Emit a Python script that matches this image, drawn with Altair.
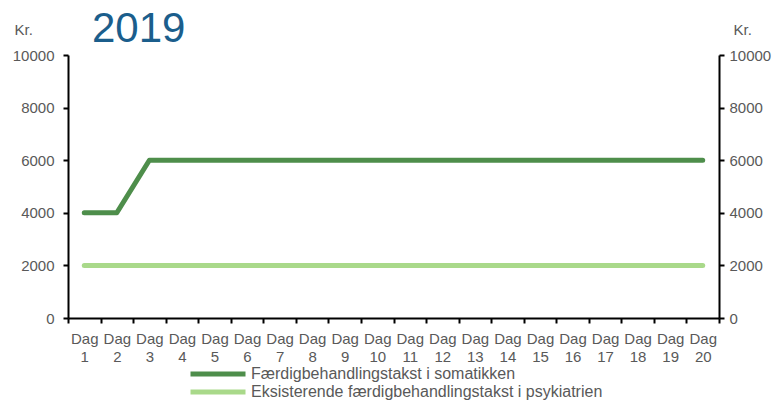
import altair as alt
import pandas as pd

days = list(range(1, 21))
somatik = [4000, 4000] + [6000] * 18
psyk = [2000] * 20
series_names = ["Færdigbehandlingstakst i somatikken",
                "Eksisterende færdigbehandlingstakst i psykiatrien"]
colors = ["#4E8E4B", "#A9D98A"]
y_ticks = [0, 2000, 4000, 6000, 8000, 10000]

rows = []
for d, a, b in zip(days, somatik, psyk):
    rows.append({"dag": d, "kr": a, "serie": series_names[0]})
    rows.append({"dag": d, "kr": b, "serie": series_names[1]})
df = pd.DataFrame(rows)

FONT = "Liberation Sans"
GRAY = "#595959"

x = alt.X("dag:O", scale=alt.Scale(type="band", paddingInner=0, paddingOuter=0),
          axis=alt.Axis(title=None, labelAngle=0, tickBand="extent",
                        labelExpr="datum.label ? ['Dag', datum.label] : ''",
                        labelLineHeight=18, labelPadding=8, tickSize=5,
                        labelFlush=False, labelOverlap=False, labelBound=False))

lines = alt.Chart(df).mark_line(strokeWidth=5, strokeCap="round", strokeJoin="round").encode(
    x=x,
    y=alt.Y("kr:Q", scale=alt.Scale(domain=[0, 10000]),
            axis=alt.Axis(values=y_ticks, format="d", title="Kr.", orient="left", titleAngle=0,
                          titleX=-54, titleY=-26, titleAlign="left", titleBaseline="middle",
                          tickSize=5, labelPadding=9)),
    color=alt.Color("serie:N", scale=alt.Scale(domain=series_names, range=colors),
                    legend=alt.Legend(title=None, orient="none", legendX=142, legendY=311,
                                      symbolType="M-5,0H5", symbolSize=121,
                                      symbolStrokeWidth=5, labelOffset=25, rowPadding=-3,
                                      labelFontSize=16, labelColor=GRAY, labelFont=FONT,
                                      labelLimit=0)),
    order=alt.Order("dag:O"),
)

right = alt.Chart(df).mark_line(opacity=0).encode(
    x=x,
    y=alt.Y("kr:Q", scale=alt.Scale(domain=[0, 10000]),
            axis=alt.Axis(values=y_ticks, format="d", title="Kr.", orient="right", titleAngle=0,
                          titleX=14, titleY=-26, titleAlign="left", titleBaseline="middle",
                          tickSize=5, labelPadding=5)),
    detail="serie:N",
)

chart = alt.layer(lines, right).resolve_scale(y="independent").properties(
    width=651, height=263,
    autosize=alt.AutoSizeParams(type="none"),
    padding={"left": 68, "top": 55, "right": 61, "bottom": 84},
    title=alt.TitleParams("2019", fontSize=42, color="#1B5E8C", anchor="start",
                          frame="group", dx=24, font=FONT, fontWeight="normal",
                          baseline="alphabetic", offset=-62),
).configure_view(stroke=None).configure_axis(
    grid=False, domainColor="black", domainWidth=2, tickColor="black", tickWidth=2,
    labelFont=FONT, labelFontSize=15, labelColor=GRAY,
    titleFont=FONT, titleFontSize=15, titleColor=GRAY, titleFontWeight="normal",
)

chart.save("out.html", embed_options={"renderer": "svg", "actions": False})
